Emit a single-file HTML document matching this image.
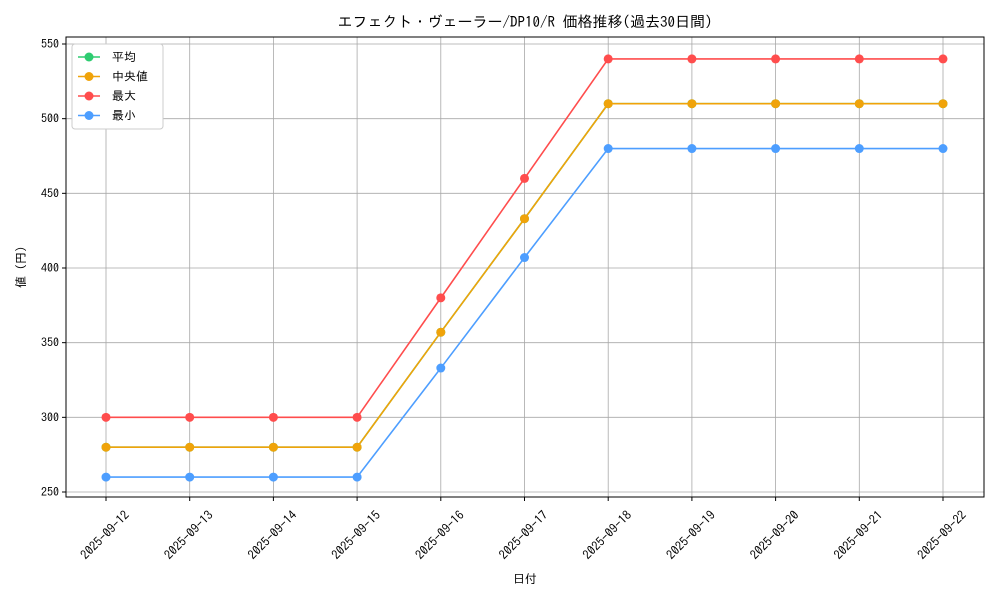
<!DOCTYPE html>
<html><head><meta charset="utf-8"><style>
body{margin:0;background:#fff;}
svg text{font-family:"IPAGothic","Liberation Sans","Noto Sans CJK JP",sans-serif;fill:#000;}
</style></head><body>
<svg id="chart" width="1000" height="600" xmlns="http://www.w3.org/2000/svg">
<text x="525" y="27" font-size="15" text-anchor="middle">エフェクト・ヴェーラー/DP10/R 価格推移(過去30日間)</text>
<g id="grid"></g>
<g id="series"></g>
<rect x="66" y="37" width="918" height="460" fill="none" stroke="#000" stroke-width="1"/>
<g id="axes"></g>
<text x="525" y="583" font-size="12" text-anchor="middle">日付</text>
<text transform="translate(25,267) rotate(-90)" font-size="12" text-anchor="middle">値 (円)</text>
<g>
<rect x="72" y="44" width="91" height="85" fill="#fff" stroke="#ccc" rx="3"/>
</g>
<g id="legend"></g>
</svg>
<script>
const dates=["2025-09-12","2025-09-13","2025-09-14","2025-09-15","2025-09-16","2025-09-17","2025-09-18","2025-09-19","2025-09-20","2025-09-21","2025-09-22"];
const meanVals=[280,280,280,280,357,433,510,510,510,510,510];
const medianVals=[280,280,280,280,357,433,510,510,510,510,510];
const maxVals=[300,300,300,300,380,460,540,540,540,540,540];
const minVals=[260,260,260,260,333,407,480,480,480,480,480];
const yTicks=[250,300,350,400,450,500,550];
const seriesNames=["平均","中央値","最大","最小"];
const ns="http://www.w3.org/2000/svg";
const X=i=>106+i*(943-106)/(dates.length-1);
const Y=v=>492-(v-250)*(448/300);
function mk(t,a,p){const e=document.createElementNS(ns,t);for(const k in a)e.setAttribute(k,a[k]);p.appendChild(e);return e;}
const grid=document.getElementById('grid'),axes=document.getElementById('axes'),ser=document.getElementById('series'),leg=document.getElementById('legend');
dates.forEach((d,i)=>{
 const l=mk('line',{x1:X(i),x2:X(i),y1:37,y2:497,stroke:'#a8a8a8','stroke-width':0.8},grid);
 
 const t=mk('line',{x1:X(i),x2:X(i),y1:497,y2:501,stroke:'#000'},axes);
 
 const tx=mk('text',{'font-size':12.5,'text-anchor':'middle',transform:`translate(${X(i)+2},${538}) rotate(-45)`},axes);
 tx.textContent=d;
 
});
yTicks.forEach(v=>{
 const l=mk('line',{x1:66,x2:984,y1:Y(v),y2:Y(v),stroke:'#a8a8a8','stroke-width':0.8},grid);
 
 const t=mk('line',{x1:62,x2:66,y1:Y(v),y2:Y(v),stroke:'#000'},axes);
 
 const tx=mk('text',{x:59,y:Y(v)+4,'font-size':12,'text-anchor':'end'},axes);
 tx.textContent=v;
 
});
const series=[[meanVals,'#2ecc71','mean'],[medianVals,'#f0a30a','median'],[maxVals,'#ff4d4d','max'],[minVals,'#4d9eff','min']];
series.forEach(([vals,c,n])=>{
 const g=mk('g',{},ser);
 
 const p=mk('polyline',{points:vals.map((v,i)=>X(i)+','+Y(v)).join(' '),fill:'none',stroke:c,'stroke-width':1.6},g);
 
 vals.forEach((v,i)=>{const m=mk('circle',{cx:X(i),cy:Y(v),r:4.5,fill:c},g);
  });
});
series.forEach(([v,c,n],k)=>{
 const y=57+k*19.5;
 const g=mk('g',{},leg);
 
 mk('line',{x1:78,x2:100,y1:y,y2:y,stroke:c,'stroke-width':1.6},g);
 mk('circle',{cx:89,cy:y,r:4.5,fill:c},g);
 const t=mk('text',{x:112,y:y+4,'font-size':12},g);t.textContent=seriesNames[k];
});
</script>
</body></html>
